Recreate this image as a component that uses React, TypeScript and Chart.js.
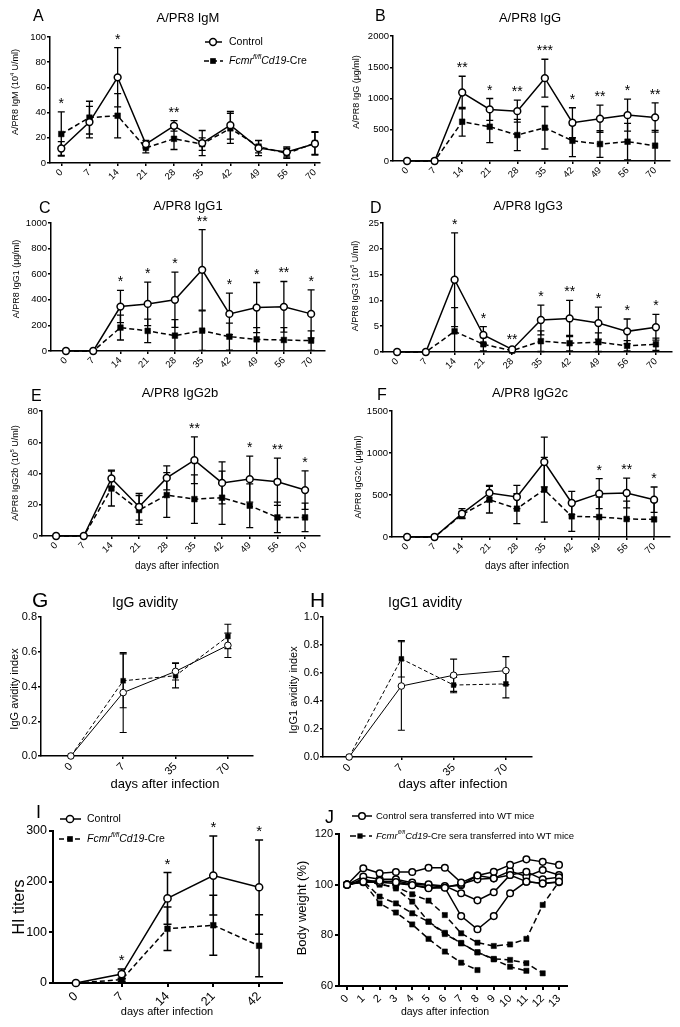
import React, { useEffect, useRef } from 'react';
import { Chart, registerables } from 'chart.js';

Chart.register(...registerables);

const FONT = '"Liberation Sans", Arial, Helvetica, sans-serif';

// ---------------- categories ----------------
const weekDays = ['0', '7', '14', '21', '28', '35', '42', '49', '56', '70'];
const avidityDays = ['0', '7', '35', '70'];
const hiDays = ['0', '7', '14', '21', '42'];
const weightDays = ['0', '1', '2', '3', '4', '5', '6', '7', '8', '9', '10', '11', '12', '13'];

// ---------------- A: IgM (10^4 U/ml) ----------------
const igmControl = [11.5, 32.5, 68, 15, 29.5, 15.8, 30, 11.8, 8.7, 15.3];
const igmControlSd = [5.5, 12.5, 23.5, 3, 4.2, 10, 11, 6, 4, 9];
const igmCre = [23, 36, 37.5, 12, 19.2, 15, 27.5, 13, 7.6, 15.8];
const igmCreSd = [17.5, 13, 17.5, 4, 8.5, 5, 12, 5, 4, 9];
const igmStars = ['*', '', '*', '', '**', '', '', '', '', ''];

// ---------------- B: IgG (ug/ml) ----------------
const iggControl = [0, 0, 1096, 825, 798, 1325, 612, 676, 734, 697];
const iggControlSd = [0, 0, 260, 175, 175, 303, 240, 218, 255, 234];
const iggCre = [0, 0, 628, 548, 415, 532, 324, 271, 309, 245];
const iggCreSd = [0, 0, 230, 255, 250, 340, 255, 213, 293, 245];
const iggStars = ['', '', '**', '*', '**', '***', '*', '**', '*', '**'];

// ---------------- C: IgG1 (ug/ml) ----------------
const igg1Control = [0, 0, 347, 368, 400, 634, 290, 339, 345, 290];
const igg1ControlSd = [0, 0, 126, 170, 216, 314, 162, 196, 198, 188];
const igg1Cre = [0, 0, 183, 157, 120, 159, 112, 91, 86, 81];
const igg1CreSd = [0, 0, 97, 92, 125, 154, 105, 92, 97, 76];
const igg1Stars = ['', '', '*', '*', '*', '**', '*', '*', '**', '*'];

// ---------------- D: IgG3 (10^5 U/ml) ----------------
const igg3Control = [0, 0, 14.0, 3.3, 0.5, 6.2, 6.5, 5.6, 4.0, 4.8];
const igg3ControlSd = [0, 0, 9.1, 1.6, 0.3, 2.9, 3.5, 3.1, 2.4, 2.5];
const igg3Cre = [0, 0, 4.0, 1.5, 0.25, 2.1, 1.7, 1.9, 1.2, 1.5];
const igg3CreSd = [0, 0, 4.6, 1.3, 0.2, 2.0, 1.5, 1.8, 1.0, 1.2];
const igg3Stars = ['', '', '*', '*', '**', '*', '**', '*', '*', '*'];

// ---------------- E: IgG2b (10^5 U/ml) ----------------
const igg2bControl = [0, 0, 36.8, 18.7, 37.2, 48.5, 34.0, 36.4, 34.7, 29.4];
const igg2bControlSd = [0, 0, 5.3, 8.5, 7.7, 15, 13.5, 14.7, 15.1, 12.3];
const igg2bCre = [0, 0, 30.4, 16.6, 26.2, 23.6, 24.5, 19.4, 11.9, 11.9];
const igg2bCreSd = [0, 0, 11.2, 9.2, 14.3, 15.5, 17, 14, 9.8, 9.1];
const igg2bStars = ['', '', '', '', '', '**', '', '*', '**', '*'];

// ---------------- F: IgG2c (ug/ml) ----------------
const igg2cControl = [0, 0, 278, 524, 476, 893, 405, 516, 524, 444];
const igg2cControlSd = [0, 0, 60, 91, 139, 297, 139, 178, 178, 151];
const igg2cCre = [0, 0, 266, 444, 337, 563, 246, 238, 214, 210];
const igg2cCreSd = [0, 0, 40, 158, 178, 385, 179, 238, 214, 210];
const igg2cStars = ['', '', '', '', '', '', '', '*', '**', '*'];

// ---------------- G: IgG avidity ----------------
const iggAvControl = [0, 0.365, 0.487, 0.637];
const iggAvControlSd = [0, 0.23, 0.05, 0.07];
const iggAvCre = [0, 0.433, 0.462, 0.688];
const iggAvCreSd = [0, 0.155, 0.07, 0.07];

// ---------------- H: IgG1 avidity ----------------
const igg1AvControl = [0, 0.507, 0.584, 0.617];
const igg1AvControlSd = [0, 0.316, 0.115, 0.1];
const igg1AvCre = [0, 0.701, 0.514, 0.522];
const igg1AvCreSd = [0, 0.13, 0.055, 0.1];

// ---------------- I: HI titers ----------------
const hiControl = [0, 17.7, 167, 212, 189];
const hiControlSd = [0, 10, 51, 78, 93];
const hiCre = [0, 6.6, 107, 114, 73.5];
const hiCreSd = [0, 3, 43, 59, 61];
const hiStars = ['', '*', '*', '*', '*'];

// ---------------- J: body weight (%) ----------------
const wtControl1 = [100, 106.5, 104.5, 105, 105, 106.7, 106.7, 100.8, 103.6, 105.1, 107.8, 110, 109, 107.8];
const wtControl2 = [100, 101.2, 101.5, 101, 99.8, 98.6, 98.8, 87.6, 82.4, 87.6, 96.6, 101.2, 100.5, 101.2];
const wtControl3 = [100, 103.2, 102.1, 102.1, 100.8, 100.1, 99.5, 96.6, 93.8, 97, 103.8, 105.1, 102.1, 102.9];
const wtControl4 = [100, 102, 101, 101.5, 100.2, 99.8, 99, 100.3, 102.1, 102.5, 105.4, 103.2, 105.8, 103.8];
const wtControl5 = [100, 101, 101, 100.5, 99.9, 98.8, 99.2, 99.8, 103.6, 102.5, 103.8, 101.2, 100.5, 101];
const wtCre1 = [100, 101, 92.6, 89, 84.3, 78.6, 73.6, 69.2, 66.3];
const wtCre2 = [100, 101.5, 95.3, 92.6, 88.7, 85.4, 81, 76.8, 73.3, 70.7, 70.3, 69, 65];
const wtCre3 = [100, 102, 100.5, 98.5, 93.3, 85.4, 80.5, 77, 73.3, 70.5, 67.6, 66];
const wtCre4 = [100, 102, 100, 99.2, 96.2, 93.7, 88, 80.8, 77.1, 75.8, 76.4, 78.6, 92, 101.2];

// ---------------- types ----------------
type Seg = { t: string; italic?: boolean; sup?: boolean };
type TextItem = { segs: string | Seg[]; x: number; y: number; size: number; align?: 'left' | 'center' | 'right'; rot?: boolean };
type LegendItem = { kind: 'ctrl' | 'cre'; x: number; y: number; x1: number; x2: number; tx: number; segs: string | Seg[]; size: number };
type Series = { kind: 'ctrl' | 'cre'; y: number[]; sd?: number[] };
type Style = {
  lineW: number; dash: number[]; ptR: number; sqR: number; axisW: number; tickLen: number; tickPad: number;
  capW: number; barW: number; tickSize: number; starSize: number;
};
type Panel = {
  box: [number, number, number, number];
  area: [number, number, number, number];
  xLabels: string[]; xMin: number; xMax: number;
  yMin: number; yMax: number; yStep: number; yDecimals: number;
  series: Series[]; stars?: string[]; texts: TextItem[]; legend?: LegendItem[]; st: Style;
};

const creSegs = (rest: string): Seg[] => [
  { t: 'Fcmr', italic: true }, { t: 'fl/fl', italic: true, sup: true }, { t: 'Cd19', italic: true }, { t: rest },
];

const styleAF: Style = { lineW: 1.5, dash: [5, 3], ptR: 3.4, sqR: 4, axisW: 1.5, tickLen: 3, tickPad: 1, capW: 7, barW: 1.3, tickSize: 9.5, starSize: 14 };
const styleGH: Style = { lineW: 1, dash: [4, 2.5], ptR: 3.3, sqR: 3.4, axisW: 1.5, tickLen: 3, tickPad: 1, capW: 7, barW: 1.1, tickSize: 11, starSize: 14 };
const styleI: Style = { lineW: 1.5, dash: [5, 3], ptR: 3.6, sqR: 4, axisW: 2, tickLen: 4, tickPad: 2, capW: 8, barW: 1.5, tickSize: 12.5, starSize: 15 };
const styleJ: Style = { lineW: 1.5, dash: [6, 3.5], ptR: 3.3, sqR: 3.7, axisW: 2, tickLen: 4, tickPad: 2, capW: 0, barW: 0, tickSize: 11, starSize: 14 };

const ytitle = (main: string, sup?: string, tail?: string): Seg[] =>
  sup ? [{ t: main }, { t: sup, sup: true }, { t: tail || '' }] : [{ t: main }];

const panels: Panel[] = [
  {
    box: [0, 0, 340, 192], area: [50, 37, 320, 163],
    xLabels: weekDays, xMin: -0.4, xMax: 9.18, yMin: 0, yMax: 100, yStep: 20, yDecimals: 0,
    series: [{ kind: 'cre', y: igmCre, sd: igmCreSd }, { kind: 'ctrl', y: igmControl, sd: igmControlSd }],
    stars: igmStars, st: styleAF,
    texts: [
      { segs: 'A', x: 33, y: 21, size: 16 },
      { segs: 'A/PR8 IgM', x: 188, y: 22, size: 13, align: 'center' },
      { segs: ytitle('A/PR8 IgM (10', '4', ' U/ml)'), x: 16, y: 92, size: 9, rot: true },
    ],
    legend: [
      { kind: 'ctrl', x: 213, y: 42, x1: 205, x2: 222, tx: 229, segs: 'Control', size: 10.5 },
      { kind: 'cre', x: 213, y: 61, x1: 204, x2: 223, tx: 229, segs: creSegs('-Cre'), size: 10.5 },
    ],
  },
  {
    box: [340, 0, 340, 192], area: [393, 36, 670, 161],
    xLabels: weekDays, xMin: -0.51, xMax: 9.54, yMin: 0, yMax: 2000, yStep: 500, yDecimals: 0,
    series: [{ kind: 'cre', y: iggCre, sd: iggCreSd }, { kind: 'ctrl', y: iggControl, sd: iggControlSd }],
    stars: iggStars, st: styleAF,
    texts: [
      { segs: 'B', x: 375, y: 21, size: 16 },
      { segs: 'A/PR8 IgG', x: 530, y: 22, size: 13, align: 'center' },
      { segs: 'A/PR8 IgG (μg/ml)', x: 357, y: 92, size: 9, rot: true },
    ],
  },
  {
    box: [0, 192, 340, 184], area: [51, 223, 325, 351],
    xLabels: weekDays, xMin: -0.55, xMax: 9.51, yMin: 0, yMax: 1000, yStep: 200, yDecimals: 0,
    series: [{ kind: 'cre', y: igg1Cre, sd: igg1CreSd }, { kind: 'ctrl', y: igg1Control, sd: igg1ControlSd }],
    stars: igg1Stars, st: styleAF,
    texts: [
      { segs: 'C', x: 39, y: 213, size: 16 },
      { segs: 'A/PR8 IgG1', x: 188, y: 210, size: 13, align: 'center' },
      { segs: 'A/PR8 IgG1 (μg/ml)', x: 17, y: 279, size: 9, rot: true },
    ],
  },
  {
    box: [340, 192, 340, 184], area: [383, 223, 672, 352],
    xLabels: weekDays, xMin: -0.49, xMax: 9.56, yMin: 0, yMax: 25, yStep: 5, yDecimals: 0,
    series: [{ kind: 'cre', y: igg3Cre, sd: igg3CreSd }, { kind: 'ctrl', y: igg3Control, sd: igg3ControlSd }],
    stars: igg3Stars, st: styleAF,
    texts: [
      { segs: 'D', x: 370, y: 213, size: 16 },
      { segs: 'A/PR8 IgG3', x: 528, y: 210, size: 13, align: 'center' },
      { segs: ytitle('A/PR8 IgG3 (10', '5', ' U/ml)'), x: 356, y: 286, size: 9, rot: true },
    ],
  },
  {
    box: [0, 376, 340, 200], area: [42, 411, 320, 536],
    xLabels: weekDays, xMin: -0.51, xMax: 9.54, yMin: 0, yMax: 80, yStep: 20, yDecimals: 0,
    series: [{ kind: 'cre', y: igg2bCre, sd: igg2bCreSd }, { kind: 'ctrl', y: igg2bControl, sd: igg2bControlSd }],
    stars: igg2bStars, st: styleAF,
    texts: [
      { segs: 'E', x: 31, y: 401, size: 16 },
      { segs: 'A/PR8 IgG2b', x: 180, y: 397, size: 13, align: 'center' },
      { segs: ytitle('A/PR8 IgG2b (10', '5', ' U/ml)'), x: 16, y: 473, size: 9, rot: true },
      { segs: 'days after infection', x: 177, y: 569, size: 10, align: 'center' },
    ],
  },
  {
    box: [340, 376, 340, 200], area: [392, 411, 670, 537],
    xLabels: weekDays, xMin: -0.55, xMax: 9.58, yMin: 0, yMax: 1500, yStep: 500, yDecimals: 0,
    series: [{ kind: 'cre', y: igg2cCre, sd: igg2cCreSd }, { kind: 'ctrl', y: igg2cControl, sd: igg2cControlSd }],
    stars: igg2cStars, st: styleAF,
    texts: [
      { segs: 'F', x: 377, y: 400, size: 16 },
      { segs: 'A/PR8 IgG2c', x: 530, y: 397, size: 13, align: 'center' },
      { segs: 'A/PR8 IgG2c (μg/ml)', x: 359, y: 477, size: 9, rot: true },
      { segs: 'days after infection', x: 527, y: 569, size: 10, align: 'center' },
    ],
  },
  {
    box: [0, 580, 300, 215], area: [41, 617, 253, 756],
    xLabels: avidityDays, xMin: -0.57, xMax: 3.48, yMin: 0, yMax: 0.8, yStep: 0.2, yDecimals: 1,
    series: [{ kind: 'cre', y: iggAvCre, sd: iggAvCreSd }, { kind: 'ctrl', y: iggAvControl, sd: iggAvControlSd }],
    st: styleGH,
    texts: [
      { segs: 'G', x: 32, y: 607, size: 21 },
      { segs: 'IgG avidity', x: 145, y: 607, size: 14, align: 'center' },
      { segs: 'IgG avidity index', x: 15, y: 689, size: 11, rot: true },
      { segs: 'days after infection', x: 165, y: 788, size: 13, align: 'center' },
    ],
  },
  {
    box: [280, 580, 400, 215], area: [323, 617, 532, 757],
    xLabels: avidityDays, xMin: -0.5, xMax: 3.5, yMin: 0, yMax: 1.0, yStep: 0.2, yDecimals: 1,
    series: [{ kind: 'cre', y: igg1AvCre, sd: igg1AvCreSd }, { kind: 'ctrl', y: igg1AvControl, sd: igg1AvControlSd }],
    st: styleGH,
    texts: [
      { segs: 'H', x: 310, y: 607, size: 21 },
      { segs: 'IgG1 avidity', x: 425, y: 607, size: 14, align: 'center' },
      { segs: 'IgG1 avidity index', x: 294, y: 690, size: 11, rot: true },
      { segs: 'days after infection', x: 453, y: 788, size: 13, align: 'center' },
    ],
  },
  {
    box: [0, 795, 300, 232], area: [53, 831, 282, 983],
    xLabels: hiDays, xMin: -0.5, xMax: 4.5, yMin: 0, yMax: 300, yStep: 100, yDecimals: 0,
    series: [{ kind: 'cre', y: hiCre, sd: hiCreSd }, { kind: 'ctrl', y: hiControl, sd: hiControlSd }],
    stars: hiStars, st: styleI,
    texts: [
      { segs: 'I', x: 36, y: 818, size: 18 },
      { segs: 'HI titers', x: 20, y: 907, size: 16, rot: true },
      { segs: 'days after infection', x: 167, y: 1015, size: 11, align: 'center' },
    ],
    legend: [
      { kind: 'ctrl', x: 70, y: 819, x1: 60, x2: 81, tx: 87, segs: 'Control', size: 10.5 },
      { kind: 'cre', x: 70, y: 839, x1: 59, x2: 82, tx: 87, segs: creSegs('-Cre'), size: 10.5 },
    ],
  },
  {
    box: [285, 795, 395, 232], area: [339, 834, 567, 986],
    xLabels: weightDays, xMin: -0.49, xMax: 13.49, yMin: 60, yMax: 120, yStep: 20, yDecimals: 0,
    series: [
      { kind: 'cre', y: wtCre1 }, { kind: 'cre', y: wtCre2 }, { kind: 'cre', y: wtCre3 }, { kind: 'cre', y: wtCre4 },
      { kind: 'ctrl', y: wtControl1 }, { kind: 'ctrl', y: wtControl2 }, { kind: 'ctrl', y: wtControl3 },
      { kind: 'ctrl', y: wtControl4 }, { kind: 'ctrl', y: wtControl5 },
    ],
    st: styleJ,
    texts: [
      { segs: 'J', x: 325, y: 823, size: 18 },
      { segs: 'Body weight (%)', x: 302, y: 908, size: 13, rot: true },
      { segs: 'days after infection', x: 445, y: 1015, size: 10.5, align: 'center' },
    ],
    legend: [
      { kind: 'ctrl', x: 362, y: 816, x1: 352, x2: 372, tx: 376, segs: 'Control sera transferred into WT mice', size: 9.5 },
      { kind: 'cre', x: 360, y: 836, x1: 350, x2: 372, tx: 376, segs: creSegs('-Cre sera transferred into WT mice'), size: 9.5 },
    ],
  },
];

// ---------------- drawing helpers ----------------
function segFont(seg: Seg, size: number) {
  const s = seg.sup ? size * 0.62 : size;
  return `${seg.italic ? 'italic ' : ''}${s}px ${FONT}`;
}
function toSegs(s: string | Seg[]): Seg[] {
  return typeof s === 'string' ? [{ t: s }] : s;
}
function drawSegs(ctx: CanvasRenderingContext2D, segsIn: string | Seg[], x: number, y: number, size: number, align: string) {
  const segs = toSegs(segsIn);
  let w = 0;
  segs.forEach((g) => { ctx.font = segFont(g, size); w += ctx.measureText(g.t).width; });
  let cx = align === 'center' ? x - w / 2 : align === 'right' ? x - w : x;
  ctx.textAlign = 'left';
  segs.forEach((g) => {
    ctx.font = segFont(g, size);
    ctx.fillText(g.t, cx, g.sup ? y - size * 0.38 : y);
    cx += ctx.measureText(g.t).width;
  });
}
function drawMarker(ctx: CanvasRenderingContext2D, kind: 'ctrl' | 'cre', x: number, y: number, st: Style) {
  ctx.setLineDash([]);
  if (kind === 'ctrl') {
    ctx.beginPath();
    ctx.arc(x, y, st.ptR, 0, Math.PI * 2);
    ctx.fillStyle = '#fff';
    ctx.fill();
    ctx.lineWidth = st.lineW;
    ctx.strokeStyle = '#000';
    ctx.stroke();
  } else {
    const h = st.sqR * Math.SQRT1_2;
    ctx.fillStyle = '#000';
    ctx.fillRect(x - h, y - h, 2 * h, 2 * h);
  }
}

function decor(p: Panel) {
  const [bl, bt] = p.box;
  const st = p.st;
  return {
    id: 'decor',
    beforeDatasetsDraw(chart: any) {
      const ctx: CanvasRenderingContext2D = chart.ctx;
      const xs = chart.scales.x;
      const ys = chart.scales.y;
      ctx.save();
      ctx.strokeStyle = '#000';
      ctx.lineWidth = st.barW;
      ctx.setLineDash([]);
      p.series.forEach((s) => {
        if (!s.sd) return;
        s.y.forEach((v, i) => {
          const e = s.sd![i];
          if (!e) return;
          const x = xs.getPixelForValue(i);
          const top = ys.getPixelForValue(v + e);
          const lowV = Math.max(v - e, p.yMin);
          const bot = ys.getPixelForValue(lowV);
          const c = st.capW / 2;
          ctx.beginPath();
          ctx.moveTo(x, top);
          ctx.lineTo(x, bot);
          ctx.moveTo(x - c, top);
          ctx.lineTo(x + c, top);
          if (v - e > p.yMin) {
            ctx.moveTo(x - c, bot);
            ctx.lineTo(x + c, bot);
          }
          ctx.stroke();
        });
      });
      ctx.restore();
    },
    afterDraw(chart: any) {
      const ctx: CanvasRenderingContext2D = chart.ctx;
      const xs = chart.scales.x;
      const ys = chart.scales.y;
      ctx.save();
      ctx.fillStyle = '#000';
      // significance stars
      if (p.stars) {
        p.stars.forEach((star, i) => {
          if (!star) return;
          let topV = -Infinity;
          p.series.forEach((s) => { topV = Math.max(topV, s.y[i] + (s.sd ? s.sd[i] : 0)); });
          const x = xs.getPixelForValue(i);
          const y = ys.getPixelForValue(topV) - 4;
          ctx.font = `${st.starSize}px ${FONT}`;
          ctx.textAlign = 'center';
          ctx.textBaseline = 'alphabetic';
          ctx.fillText(star, x, y);
        });
      }
      // texts
      p.texts.forEach((t) => {
        ctx.fillStyle = '#000';
        if (t.rot) {
          ctx.save();
          ctx.translate(t.x - bl, t.y - bt);
          ctx.rotate(-Math.PI / 2);
          ctx.textBaseline = 'middle';
          drawSegs(ctx, t.segs, 0, 0, t.size, 'center');
          ctx.restore();
        } else {
          ctx.textBaseline = 'alphabetic';
          drawSegs(ctx, t.segs, t.x - bl, t.y - bt, t.size, t.align || 'left');
        }
      });
      // legend
      (p.legend || []).forEach((lg) => {
        ctx.save();
        ctx.strokeStyle = '#000';
        ctx.lineWidth = st.lineW;
        ctx.setLineDash(lg.kind === 'cre' ? st.dash : []);
        ctx.beginPath();
        ctx.moveTo(lg.x1 - bl, lg.y - bt);
        ctx.lineTo(lg.x2 - bl, lg.y - bt);
        ctx.stroke();
        drawMarker(ctx, lg.kind, lg.x - bl, lg.y - bt, st);
        ctx.fillStyle = '#000';
        ctx.textBaseline = 'middle';
        drawSegs(ctx, lg.segs, lg.tx - bl, lg.y - bt, lg.size, 'left');
        ctx.restore();
      });
      ctx.restore();
    },
  };
}

function buildConfig(p: Panel) {
  const [bl, bt, bw, bh] = p.box;
  const [al, at, ar, ab] = p.area;
  const st = p.st;
  const yTicks: number[] = [];
  for (let v = p.yMin; v <= p.yMax + 1e-9; v += p.yStep) yTicks.push(+v.toFixed(6));
  const tickFont = { family: FONT, size: st.tickSize };
  return {
    type: 'line',
    data: {
      datasets: p.series.map((s) => ({
        data: s.y.map((v, i) => ({ x: i, y: v })),
        borderColor: '#000',
        borderWidth: st.lineW,
        borderDash: s.kind === 'cre' ? st.dash : [],
        pointStyle: s.kind === 'cre' ? 'rect' : 'circle',
        pointRadius: s.kind === 'cre' ? st.sqR : st.ptR,
        pointBackgroundColor: s.kind === 'cre' ? '#000' : '#fff',
        pointBorderColor: '#000',
        pointBorderWidth: s.kind === 'cre' ? 0.5 : st.lineW,
        fill: false,
        tension: 0,
        clip: false,
        order: s.kind === 'ctrl' ? 0 : 1,
      })),
    },
    options: {
      responsive: false,
      animation: false,
      events: [],
      layout: { padding: { left: 0, top: at - bt, right: bl + bw - ar, bottom: 0 } },
      plugins: { legend: { display: false }, tooltip: { enabled: false }, title: { display: false } },
      scales: {
        x: {
          type: 'linear',
          min: p.xMin,
          max: p.xMax,
          afterBuildTicks: (sc: any) => { sc.ticks = p.xLabels.map((_, i) => ({ value: i })); },
          afterFit: (sc: any) => { sc.height = bt + bh - ab; },
          ticks: {
            autoSkip: false, maxRotation: 45, minRotation: 45, color: '#000', font: tickFont, padding: st.tickPad,
            callback: (v: any) => p.xLabels[Math.round(v)] ?? '',
          },
          grid: { display: true, drawOnChartArea: false, drawTicks: true, tickLength: st.tickLen, color: '#000', lineWidth: st.axisW },
          border: { display: true, color: '#000', width: st.axisW },
        },
        y: {
          type: 'linear',
          min: p.yMin,
          max: p.yMax,
          afterBuildTicks: (sc: any) => { sc.ticks = yTicks.map((v) => ({ value: v })); },
          afterFit: (sc: any) => { sc.width = al - bl; },
          ticks: {
            color: '#000', font: tickFont, padding: st.tickPad,
            callback: (v: any) => Number(v).toFixed(p.yDecimals),
          },
          grid: { display: true, drawOnChartArea: false, drawTicks: true, tickLength: st.tickLen, color: '#000', lineWidth: st.axisW },
          border: { display: true, color: '#000', width: st.axisW },
        },
      },
    },
    plugins: [decor(p)],
  };
}

function PanelChart({ p }: { p: Panel }) {
  const ref = useRef<HTMLCanvasElement>(null);
  useEffect(() => {
    const chart = new Chart(ref.current as HTMLCanvasElement, buildConfig(p) as any);
    return () => chart.destroy();
  }, [p]);
  const [l, t, w, h] = p.box;
  return (
    <canvas
      ref={ref}
      width={w}
      height={h}
      style={{ position: 'absolute', left: l, top: t, width: w, height: h }}
    />
  );
}

export default function App() {
  return (
    <div style={{ position: 'absolute', left: 0, top: 0, width: 680, height: 1027, background: '#fff', overflow: 'hidden' }}>
      {panels.map((p, i) => (
        <PanelChart key={i} p={p} />
      ))}
    </div>
  );
}
